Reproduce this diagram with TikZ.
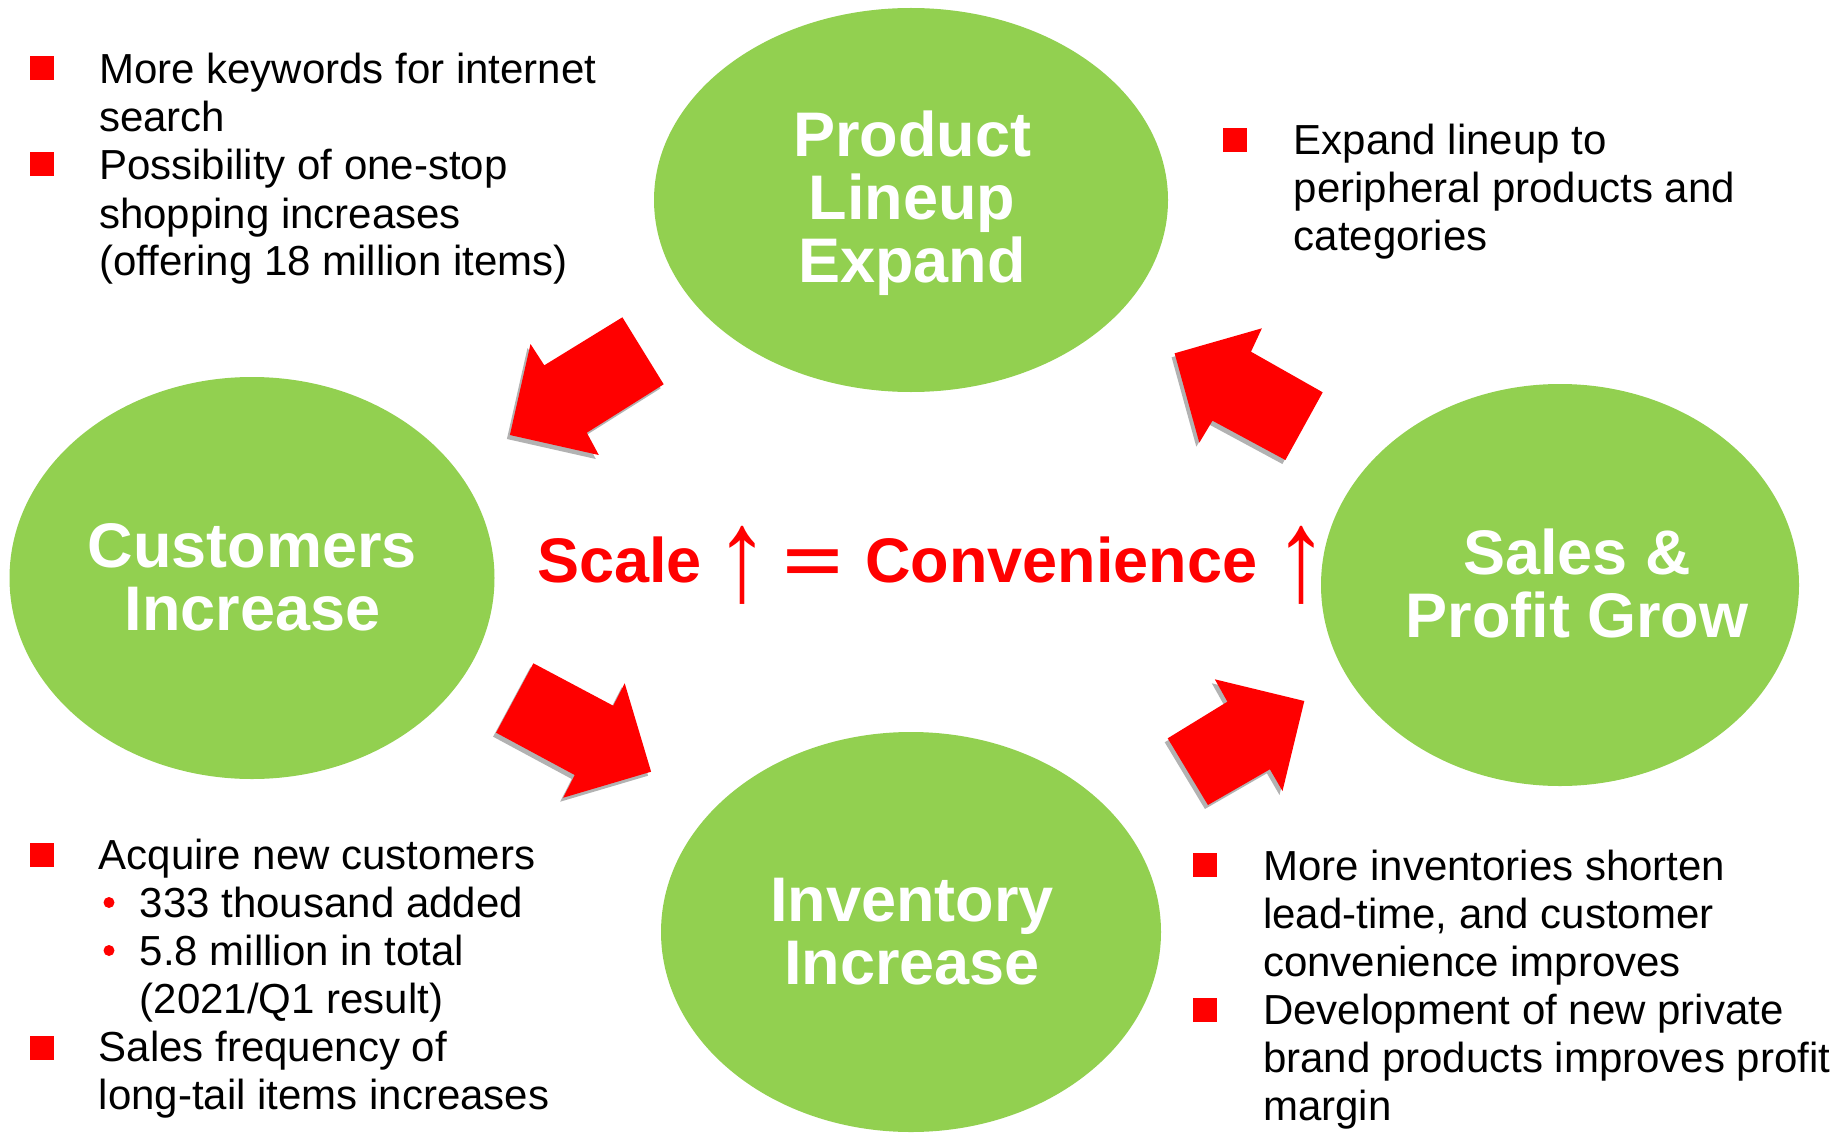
\documentclass[tikz,border=0pt]{standalone}
\usepackage{fontspec}
\setmainfont{Liberation Sans}
\usetikzlibrary{shapes.geometric,shadows}
\definecolor{ovalgreen}{RGB}{146,208,80}
\definecolor{pptred}{RGB}{255,0,0}
\newcommand{\upglyph}{\raisebox{-18pt}{\scalebox{1.35}[1.65]{\mdseries\fontsize{80}{80}\selectfont ↑}}}
\begin{document}
\begin{tikzpicture}[x=1pt,y=-1pt,
  oval/.style={ellipse, fill=ovalgreen, inner sep=0pt},
  ovaltext/.style={anchor=base, inner sep=0pt, text=white, font=\bfseries\fontsize{63}{63}\selectfont},
  blockarrow/.style={fill=pptred, draw=none, drop shadow={shadow xshift=-3pt, shadow yshift=-4pt, opacity=0.3, fill=black}},
  bulletsq/.style={rectangle, fill=pptred, minimum size=24pt, inner sep=0pt},
  subdot/.style={circle, fill=pptred, minimum size=11pt, inner sep=0pt},
  btext/.style={anchor=base west, inner sep=0pt, font=\fontsize{42}{48}\selectfont}]
\useasboundingbox[fill=white] (0,0) rectangle (1846,1134);

% block arrows
\fill[blockarrow] (530.5,344) -- (544.3,365.3) -- (622.4,317.3) -- (663.7,384.3) -- (586.8,432.7) -- (598.8,455) -- (509.9,435) -- cycle;
\fill[blockarrow] (1174.6,353.3) -- (1261.9,328.3) -- (1251,351.7) -- (1322.7,392.3) -- (1285.4,460) -- (1212.5,420.7) -- (1199.3,442.7) -- cycle;
\fill[blockarrow] (533.4,663.3) -- (613.2,705.7) -- (624.7,683.3) -- (651.1,771.7) -- (563.2,797.7) -- (574.7,775) -- (496.1,732.7) -- cycle;
\fill[blockarrow] (1214.8,679.3) -- (1304.3,701) -- (1282.5,791) -- (1269.9,769.3) -- (1207.9,805) -- (1167.7,738.3) -- (1227.4,701.7) -- cycle;

% ovals
\node[oval, minimum width=514pt, minimum height=384pt] (prod) at (911,200) {};
\node[oval, minimum width=485pt, minimum height=402pt] (cust) at (252,578) {};
\node[oval, minimum width=478pt, minimum height=402pt] (sales) at (1560,585) {};
\node[oval, minimum width=500pt, minimum height=400pt] (inv) at (911,932) {};

\node[ovaltext] (prodT) at (912,157) {\parbox[t]{600pt}{\centering Product\\Lineup\\Expand}};
\node[ovaltext] (custT) at (252.5,567) {\parbox[t]{600pt}{\centering Customers\\Increase}};
\node[ovaltext] (salesT) at (1577,574.5) {\parbox[t]{600pt}{\centering Sales \&\\Profit Grow}};
\node[ovaltext] (invT) at (912,921.7) {\parbox[t]{600pt}{\centering Inventory\\Increase}};

% slogan
\node[anchor=base west, inner sep=0pt, text=pptred, font=\bfseries\fontsize{63}{63}\selectfont] (slogan) at (537,582)
  {Scale\hspace{40.4pt}\makebox[0pt]{\upglyph}\hspace{41pt}\scalebox{1.6}[1]{=}\hspace{23pt}Convenience\hspace{44.5pt}\makebox[0pt]{\upglyph}};

% top-left bullets
\node[bulletsq] (b1) at (41.5,68.5) {};
\node[btext] (t1) at (99,84) {\parbox[t]{700pt}{\raggedright More keywords for internet\\search}};
\node[bulletsq] (b2) at (41.5,164.5) {};
\node[btext] (t2) at (99,180) {\parbox[t]{700pt}{\raggedright Possibility of one-stop\\shopping increases\\(offering 18 million items)}};

% top-right bullet
\node[bulletsq] (b3) at (1235,140.5) {};
\node[btext] (t3) at (1293.5,155) {\parbox[t]{700pt}{\raggedright Expand lineup to\\peripheral products and\\categories}};

% bottom-left bullets
\node[bulletsq] (b4) at (41.5,854.7) {};
\node[btext] (t4) at (98.7,869.3) {Acquire new customers};
\node[subdot] (d1) at (109,902.5) {};
\node[btext] (t5) at (139.7,917.3) {333 thousand added};
\node[subdot] (d2) at (109,950.5) {};
\node[btext] (t6) at (139.7,965.3) {\parbox[t]{700pt}{\raggedright 5.8 million in total\\(2021/Q1 result)}};
\node[bulletsq] (b5) at (41.5,1047.5) {};
\node[btext] (t7) at (98.7,1061.3) {\parbox[t]{700pt}{\raggedright Sales frequency of\\long-tail items increases}};

% bottom-right bullets
\node[bulletsq] (b6) at (1205,865) {};
\node[btext] (t8) at (1262.8,880) {\parbox[t]{700pt}{\raggedright More inventories shorten\\lead-time, and customer\\convenience improves}};
\node[bulletsq] (b7) at (1205,1009.7) {};
\node[btext] (t9) at (1262.8,1024) {\parbox[t]{700pt}{\raggedright Development of new private\\brand products improves profit\\margin}};
\end{tikzpicture}
\end{document}
